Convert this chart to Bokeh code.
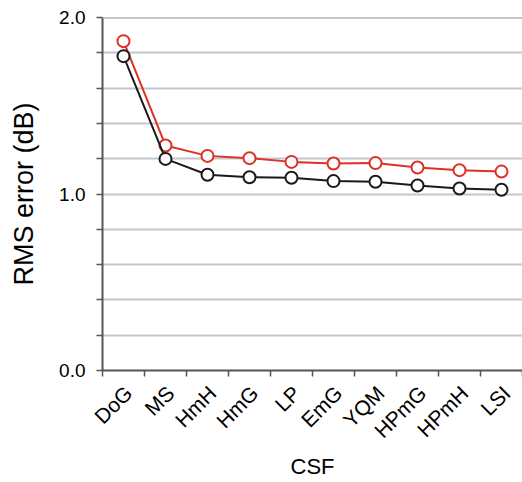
from math import pi
from bokeh.plotting import figure
from bokeh.models import FixedTicker, Range1d, Span, ColumnDataSource
from bokeh.embed import file_html
from bokeh.resources import INLINE

categories = ["DoG", "MS", "HmH", "HmG", "LP", "EmG", "YQM", "HPmG", "HPmH", "LSI"]
red_values = [1.866, 1.275, 1.216, 1.203, 1.182, 1.173, 1.175, 1.150, 1.135, 1.127]
black_values = [1.781, 1.199, 1.109, 1.095, 1.092, 1.073, 1.069, 1.048, 1.031, 1.024]
y_ticks = [0.0, 0.2, 0.4, 0.6, 0.8, 1.0, 1.2, 1.4, 1.6, 1.8, 2.0]
y_labelled = {0.0: "0.0", 1.0: "1.0", 2.0: "2.0"}

n = len(categories)
centers = [i + 0.5 for i in range(n)]
bounds = [float(i) for i in range(n + 1)]
label_pos = [c + 0.12 for c in centers]  # slight nudge of rotated labels

src = ColumnDataSource(dict(x=centers, red=red_values, black=black_values, cat=categories))

FONT = "Liberation Sans"

p = figure(width=522, height=482, output_backend="svg", toolbar_location=None,
           x_range=Range1d(0, n), y_range=Range1d(0, 2.0),
           min_border_left=102, min_border_top=17, min_border_bottom=112, min_border_right=0)
p.outline_line_color = None
p.background_fill_color = "white"
p.border_fill_color = "white"

# x axis
p.xaxis.ticker = FixedTicker(ticks=label_pos, minor_ticks=bounds)
p.xaxis.major_label_overrides = {c: name for c, name in zip(label_pos, categories)}
p.xaxis.major_tick_out = 0
p.xaxis.major_tick_in = 0
p.xaxis.minor_tick_out = 6
p.xaxis.minor_tick_in = 0
p.xaxis.minor_tick_line_color = "#555555"
p.xaxis.minor_tick_line_width = 1.5
p.xaxis.major_label_orientation = pi / 4
p.xaxis.major_label_text_font = FONT
p.xaxis.major_label_text_font_size = "21px"
p.xaxis.major_label_text_color = "black"
p.xaxis.major_label_standoff = 13
p.xaxis.axis_label = "CSF"
p.xaxis.axis_label_text_font = FONT
p.xaxis.axis_label_text_font_size = "22px"
p.xaxis.axis_label_text_font_style = "normal"
p.xaxis.axis_label_text_color = "black"
p.xaxis.axis_label_standoff = 1
p.xaxis.axis_line_color = "#555555"
p.xaxis.axis_line_width = 2

# y axis
p.yaxis.ticker = FixedTicker(ticks=y_ticks, minor_ticks=[])
p.yaxis.major_label_overrides = {t: y_labelled.get(t, "") for t in y_ticks}
p.yaxis.major_tick_out = 6
p.yaxis.major_tick_in = 0
p.yaxis.major_tick_line_color = "#555555"
p.yaxis.major_tick_line_width = 1.5
p.yaxis.major_label_text_font = FONT
p.yaxis.major_label_text_font_size = "19px"
p.yaxis.major_label_text_color = "black"
p.yaxis.major_label_standoff = 11
p.yaxis.axis_label = "RMS error (dB)"
p.yaxis.axis_label_text_font = FONT
p.yaxis.axis_label_text_font_size = "27px"
p.yaxis.axis_label_text_font_style = "normal"
p.yaxis.axis_label_text_color = "black"
p.yaxis.axis_label_standoff = 17
p.yaxis.axis_line_color = "#555555"
p.yaxis.axis_line_width = 2

p.xgrid.visible = False
p.ygrid.grid_line_color = "#c3c6cd"
p.ygrid.grid_line_width = 2

p.add_layout(Span(location=2.0, dimension="width", line_color="#8a8d93", line_width=2))

RED = "#de3027"
BLACK = "#1a1a1a"
p.line("x", "red", source=src, line_color=RED, line_width=2)
p.scatter("x", "red", source=src, marker="circle", size=12, fill_color="white",
          line_color=RED, line_width=2)
p.line("x", "black", source=src, line_color=BLACK, line_width=2)
p.scatter("x", "black", source=src, marker="circle", size=12, fill_color="white",
          line_color=BLACK, line_width=2)

open("out.html", "w").write(file_html(p, INLINE))
